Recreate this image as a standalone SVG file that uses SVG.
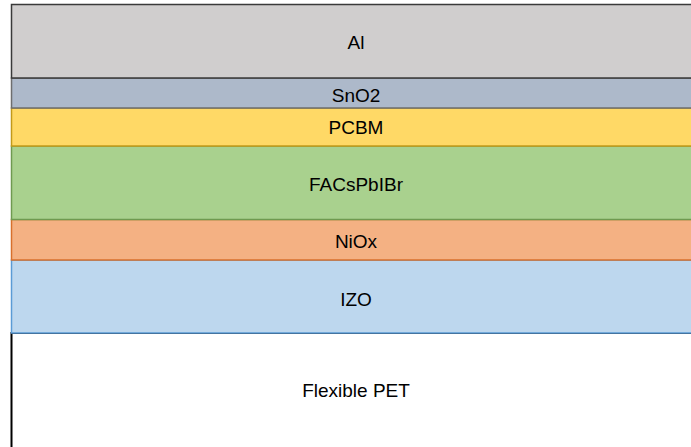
<svg xmlns="http://www.w3.org/2000/svg" width="691" height="447" viewBox="0 0 691 447">
<style>
.lyr{stroke-width:1.5}
.lbl{font-family:"Liberation Sans","Open Sans",Arial,sans-serif;font-size:19px;fill:#000;text-anchor:middle}
</style>
<rect width="691" height="447" fill="#fff"/>
<g id="pet"><rect x="11.5" y="333" width="700" height="130" fill="#fff" stroke="#000" stroke-width="2"/><text class="lbl" x="356" y="397">Flexible PET</text></g>
<g id="izo"><rect class="lyr" x="11.5" y="260" width="700" height="73" fill="#BDD7EE" stroke="#5B9BD5"/><text class="lbl" x="356" y="306">IZO</text></g>
<g id="niox"><rect class="lyr" x="11.5" y="219.5" width="700" height="40.5" fill="#F4B183" stroke="#D8702C"/><text class="lbl" x="356" y="248">NiOx</text></g>
<g id="facspbibr"><rect class="lyr" x="11.5" y="146" width="700" height="73.5" fill="#A9D18E" stroke="#6F9A50"/><text class="lbl" x="356" y="190.5">FACsPbIBr</text></g>
<g id="pcbm"><rect class="lyr" x="11.5" y="108" width="700" height="38" fill="#FFD966" stroke="#C39A1A"/><text class="lbl" x="356" y="134">PCBM</text></g>
<g id="sno2"><rect class="lyr" x="11.5" y="78" width="700" height="30" fill="#ADB9CA" stroke="#6E6E6E"/><text class="lbl" x="356" y="101.5">SnO2</text></g>
<g id="al"><rect class="lyr" x="11.5" y="4.5" width="700" height="73.5" fill="#D0CECE" stroke="#3A3A3A"/><text class="lbl" x="356" y="49">Al</text></g>
<g id="connectors"/>
</svg>
